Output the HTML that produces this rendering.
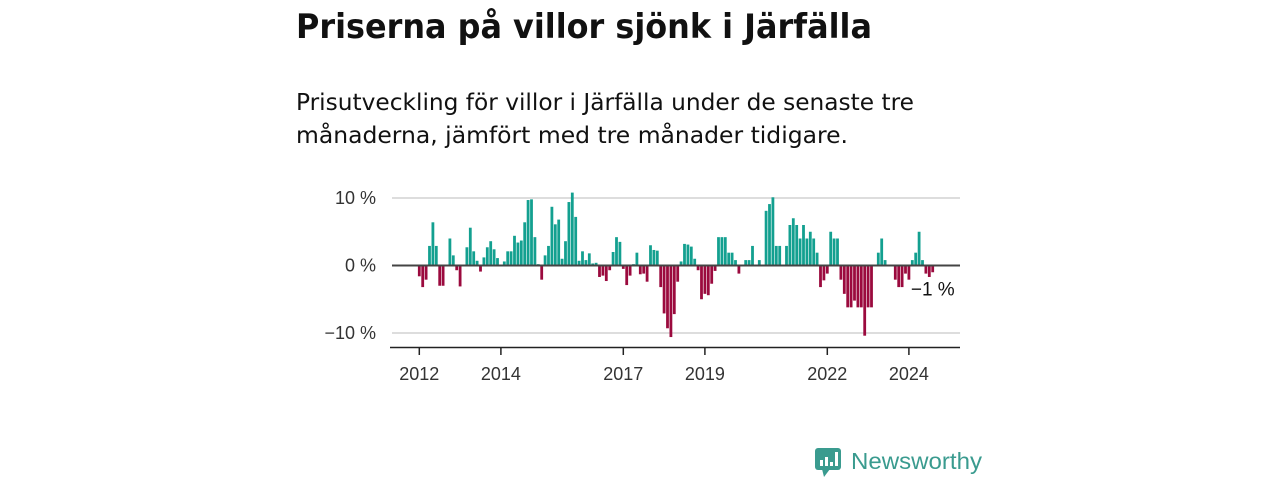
<!DOCTYPE html>
<html><head><meta charset="utf-8"><style>
html,body{margin:0;padding:0;background:#fff;}
svg{display:block;font-family:"Liberation Sans",sans-serif;}
</style></head><body>
<svg id="chart" width="1280" height="480" viewBox="0 0 1280 480">
<text x="296" y="38" font-size="34" font-weight="bold" fill="#111" font-family="DejaVu Sans, sans-serif" textLength="576" lengthAdjust="spacingAndGlyphs">Priserna på villor sjönk i Järfälla</text>
<text x="296" y="110" font-size="23" fill="#111" font-family="DejaVu Sans, sans-serif" textLength="618" lengthAdjust="spacingAndGlyphs">Prisutveckling för villor i Järfälla under de senaste tre</text>
<text x="296" y="143" font-size="23" fill="#111" font-family="DejaVu Sans, sans-serif" textLength="552" lengthAdjust="spacingAndGlyphs">månaderna, jämfört med tre månader tidigare.</text>
<g id="grid"></g><g id="bars"></g><g id="axes"></g>
<g>
<rect x="815" y="448" width="26" height="22" rx="3" fill="#3a9b8f"/>
<polygon points="822,469 830,469 824,477" fill="#3a9b8f"/>
<rect x="820" y="460" width="3" height="6" fill="#fff"/><rect x="825" y="457" width="3" height="9" fill="#fff"/><rect x="830" y="462" width="3" height="4" fill="#fff"/><rect x="835" y="452" width="3" height="14" fill="#fff"/>
<text x="851" y="469" font-size="23" fill="#3a9b8f" textLength="131" lengthAdjust="spacingAndGlyphs">Newsworthy</text>
</g>
</svg>
<script>
const values=[-1.6,-3.2,-2.1,2.9,6.4,2.9,-3.0,-3.0,0,4.0,1.5,-0.7,
-3.1,0,2.7,5.6,2.1,0.7,-0.9,1.2,2.7,3.6,2.4,1.1,
0,0.6,2.1,2.1,4.4,3.4,3.7,6.4,9.7,9.8,4.2,0.2,
-2.1,1.5,2.9,8.7,6.1,6.8,1.0,3.6,9.4,10.8,7.2,0.7,
2.1,0.8,1.8,0.3,0.4,-1.7,-1.5,-2.3,-0.7,2.0,4.2,3.5,
-0.5,-2.9,-1.5,0.2,1.9,-1.3,-1.2,-2.4,3.0,2.3,2.2,-3.2,
-7.1,-9.3,-10.6,-7.2,-2.4,0.6,3.2,3.1,2.8,1.0,-0.7,-5.0,
-4.2,-4.4,-2.7,-0.8,4.2,4.2,4.2,1.9,1.9,0.8,-1.2,0,
0.8,0.8,2.9,0,0.8,0,8.1,9.1,10.1,2.9,2.9,0,
2.9,6.0,7.0,6.0,4.0,6.0,4.0,5.0,4.0,1.9,-3.2,-2.2,
-1.2,5.0,4.0,4.0,-2.1,-4.2,-6.2,-6.2,-5.2,-6.2,-6.2,-10.4,
-6.2,-6.2,0,1.9,4.0,0.8,0,0,-2.1,-3.2,-3.2,-1.2,
-2.1,0.8,1.9,5.0,0.8,-1.2,-1.7,-1.0];
const yTicks=[10,0,-10];
const yTickLabels=["10 %","0 %","−10 %"];
const xTickYears=[2012,2014,2017,2019,2022,2024];
const startYear=2012;
const lastLabel="−1 %";

const NS="http://www.w3.org/2000/svg";
const x=i=>419.3+3.4*i;
const y=v=>265.5-6.75*v;
function mk(t,a,p){const e=document.createElementNS(NS,t);for(const k in a)e.setAttribute(k,a[k]);p.appendChild(e);return e;}
const grid=document.getElementById('grid'),bars=document.getElementById('bars'),axes=document.getElementById('axes');
yTicks.forEach((v,i)=>{
  if(v!==0){const l=mk('line',{x1:392,x2:960,y1:y(v),y2:y(v),stroke:'#ddd','stroke-width':2},grid);
  
  }
  const t=mk('text',{x:376,y:y(v)+6,'text-anchor':'end','font-size':18,fill:'#333'},axes);
  t.textContent=yTickLabels[i];
  
  
});
values.forEach((v,i)=>{
  if(v===0)return;
  const r=mk('rect',{x:x(i)-1.4,width:2.8,y:Math.min(y(v),y(0)),height:Math.abs(y(v)-y(0)),fill:v>0?'#13a090':'#9b0a3e'},bars);
  
  
});
const z=mk('line',{x1:392,x2:960,y1:y(0),y2:y(0),stroke:'#444','stroke-width':2},axes);


const ax=mk('line',{x1:390,x2:960,y1:347.5,y2:347.5,stroke:'#222','stroke-width':1.5},axes);


xTickYears.forEach(yr=>{
  const xi=x((yr-startYear)*12);
  const tk=mk('line',{x1:xi,x2:xi,y1:347,y2:355,stroke:'#222','stroke-width':1.5},axes);
  
  
  const t=mk('text',{x:xi,y:380,'text-anchor':'middle','font-size':18,fill:'#333'},axes);
  t.textContent=yr;
  
  
});
const lv=mk('text',{x:x(values.length-1)+22,y:y(0)+30,'text-anchor':'end','font-size':19,fill:'#111'},axes);
lv.textContent=lastLabel;


</script>
</body></html>
